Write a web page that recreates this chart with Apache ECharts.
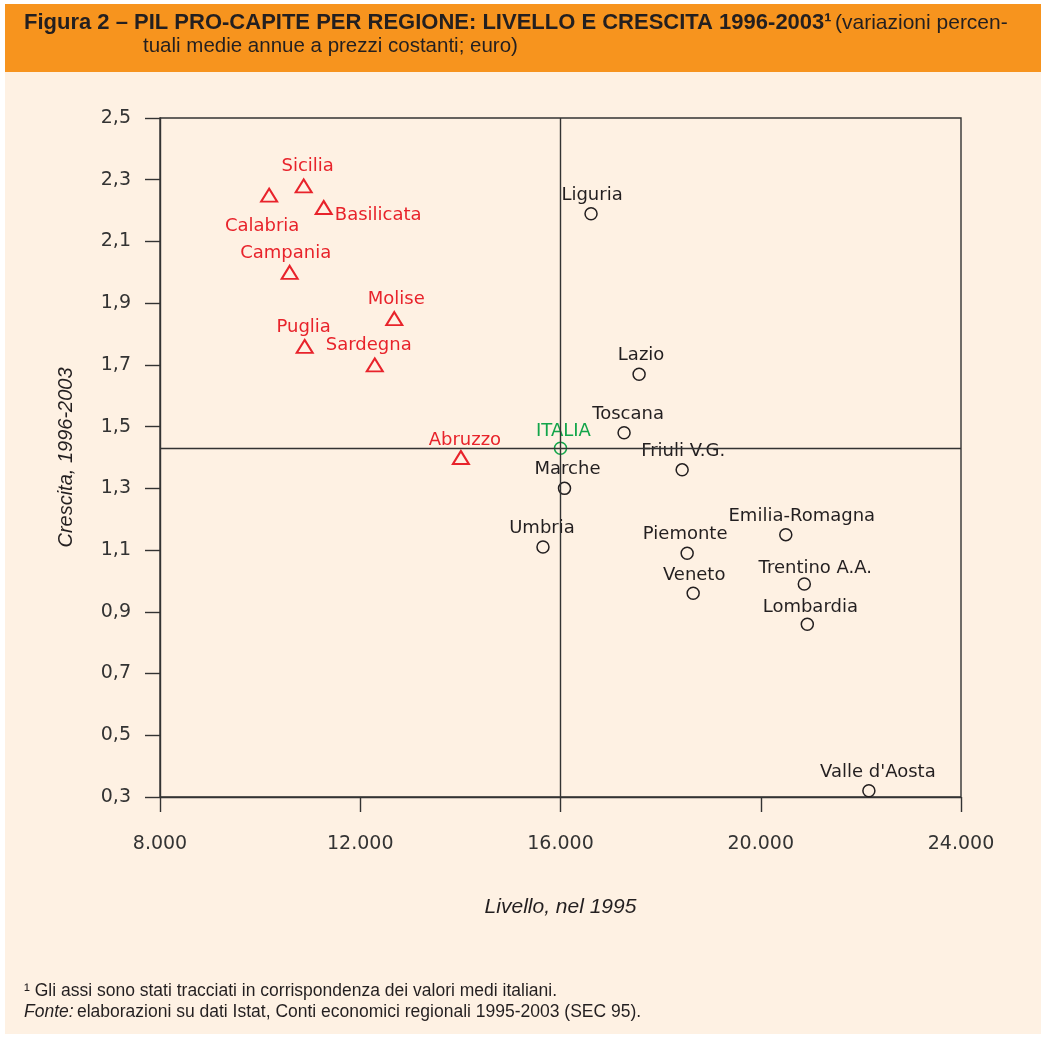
<!DOCTYPE html>
<html>
<head>
<meta charset="utf-8">
<script src="https://cdn.jsdelivr.net/npm/echarts@6/dist/echarts.min.js"></script>
<style>
html,body{margin:0;padding:0;background:#ffffff;}
#chart{width:1041px;height:1039px;}
</style>
</head>
<body>
<div id="chart"></div>
<script>
// ---- DATA ----
const regions = ['Sicilia','Calabria','Basilicata','Campania','Molise','Puglia','Sardegna','Abruzzo',
  'ITALIA','Liguria','Lazio','Toscana','Friuli V.G.','Marche','Umbria','Emilia-Romagna','Piemonte',
  'Trentino A.A.','Veneto','Lombardia',"Valle d'Aosta"];
const livello = [10870,10180,11270,10590,12680,10890,12290,14010,
  16000,16610,17570,17270,18430,16080,15650,20500,18530,20870,18650,20930,22160];
const crescita = [2.28,2.25,2.21,2.00,1.85,1.76,1.70,1.40,
  1.43,2.19,1.67,1.48,1.36,1.30,1.11,1.15,1.09,0.99,0.96,0.86,0.32];
const gruppo = ['sud','sud','sud','sud','sud','sud','sud','sud',
  'italia','nord','nord','nord','nord','nord','nord','nord','nord','nord','nord','nord','nord'];
const xTicks = [8000, 12000, 16000, 20000, 24000];
const yTicks = [0.3, 0.5, 0.7, 0.9, 1.1, 1.3, 1.5, 1.7, 1.9, 2.1, 2.3, 2.5];

// ---- label placement (style only) ----
const labelAdj = {
  'Sicilia': {offset:[4,0]},
  'Calabria': {position:'bottom', distance:15, offset:[-7,0]},
  'Basilicata': {position:'right', distance:2, offset:[0,8]},
  'Campania': {offset:[-4,0]},
  'Molise': {offset:[2,0]},
  'Puglia': {offset:[-1,0]},
  'Sardegna': {offset:[-6,0]},
  'Abruzzo': {offset:[4,2]},
  'ITALIA': {offset:[3,2]},
  'Liguria': {offset:[1,0]},
  'Lazio': {offset:[2,0]},
  'Toscana': {offset:[4,0]},
  'Friuli V.G.': {offset:[1,0]},
  'Marche': {offset:[3,0]},
  'Umbria': {offset:[-1,0]},
  'Emilia-Romagna': {offset:[16,0]},
  'Piemonte': {offset:[-2,0]},
  'Trentino A.A.': {offset:[11,3]},
  'Veneto': {offset:[1,1]},
  'Lombardia': {offset:[3,2]},
  "Valle d'Aosta": {offset:[9,0]}
};

const RED = '#E8232B', GREEN = '#12A54A', DARK = '#231F20';
function build(g){
  const out = [];
  regions.forEach((n,i)=>{
    if(gruppo[i]!==g) return;
    const adj = labelAdj[n] || {};
    out.push({name:n, value:[livello[i], crescita[i]], label:Object.assign({}, adj)});
  });
  return out;
}
const iIt = regions.indexOf('ITALIA');
const labelFont = {fontFamily:'DejaVu Sans', fontSize:18, show:true, position:'top', distance:3,
  formatter: p => p.name};

const chart = echarts.init(document.getElementById('chart'), null, {renderer:'canvas'});
chart.setOption({
  animation:false,
  backgroundColor:'#ffffff',
  graphic:[
    {type:'rect', shape:{x:5,y:72,width:1036,height:962}, style:{fill:'#FEF1E3'}, z:-10, silent:true},
    {type:'rect', shape:{x:5,y:4,width:1036,height:68}, style:{fill:'#F7941E'}, z:-10, silent:true},
    {type:'text', left:24, top:12, style:{
      text:'{b|Figura 2 – PIL PRO-CAPITE PER REGIONE: LIVELLO E CRESCITA 1996-2003¹} {n|(variazioni percen-}',
      rich:{
        b:{fontFamily:'Liberation Sans', fontWeight:'bold', fontSize:22, fill:'#231F20'},
        n:{fontFamily:'Liberation Sans', fontSize:21, fill:'#231F20'}
      }}},
    {type:'text', left:143, top:36, style:{text:'tuali medie annue a prezzi costanti; euro)',
      fontFamily:'Liberation Sans', fontSize:20.5, fill:'#231F20'}},
    {type:'text', left:24, top:982, style:{text:'¹ Gli assi sono stati tracciati in corrispondenza dei valori medi italiani.',
      fontFamily:'Liberation Sans', fontSize:17.5, fill:'#231F20'}},
    {type:'text', left:24, top:1003, style:{
      text:'{i|Fonte:} {n|elaborazioni su dati Istat, Conti economici regionali 1995-2003 (SEC 95).}',
      rich:{
        i:{fontFamily:'Liberation Sans', fontStyle:'italic', fontSize:17.5, fill:'#231F20'},
        n:{fontFamily:'Liberation Sans', fontSize:17.5, fill:'#231F20'}
      }}}
  ],
  grid:{left:160, right:80, top:118, bottom:242, show:true, borderColor:'#333333', borderWidth:1.4,
    backgroundColor:'transparent'},
  xAxis:{
    type:'value', min:xTicks[0], max:xTicks[xTicks.length-1], interval:4000,
    name:'Livello, nel 1995', nameLocation:'middle', nameGap:100,
    nameTextStyle:{fontFamily:'Liberation Sans', fontStyle:'italic', fontSize:21, color:'#231F20'},
    axisLine:{show:true, onZero:false, lineStyle:{color:'#333333', width:1.4}},
    axisTick:{show:true, length:15, lineStyle:{color:'#333333', width:1.4}},
    axisLabel:{margin:38, fontFamily:'DejaVu Sans', fontSize:19, color:'#333333',
      formatter: v => v.toLocaleString('de-DE')},
    splitLine:{show:false}
  },
  yAxis:{
    type:'value', min:yTicks[0], max:yTicks[yTicks.length-1], interval:0.2,
    name:'Crescita, 1996-2003', nameLocation:'middle', nameGap:84, nameRotate:90,
    nameTextStyle:{fontFamily:'Liberation Sans', fontStyle:'italic', fontSize:20, color:'#231F20'},
    axisLine:{show:true, onZero:false, lineStyle:{color:'#333333', width:1.4}},
    axisTick:{show:true, length:15, lineStyle:{color:'#333333', width:1.4}},
    axisLabel:{margin:29, fontFamily:'DejaVu Sans', fontSize:19, color:'#333333',
      formatter: v => v.toFixed(1).replace('.', ',')},
    splitLine:{show:false}
  },
  series:[
    {type:'scatter', name:'nord', data:build('nord'), symbol:'circle', symbolSize:12,
      itemStyle:{color:'rgba(0,0,0,0)', borderColor:DARK, borderWidth:1.5, opacity:1},
      label:Object.assign({color:DARK}, labelFont), emphasis:{disabled:true}, z:3},
    {type:'scatter', name:'sud', data:build('sud'), symbol:'triangle', symbolSize:[16,13],
      itemStyle:{color:'rgba(0,0,0,0)', borderColor:RED, borderWidth:2, opacity:1},
      label:Object.assign({color:RED}, labelFont), emphasis:{disabled:true}, z:3},
    {type:'scatter', name:'italia', data:build('italia'), symbol:'circle', symbolSize:12,
      itemStyle:{color:'rgba(0,0,0,0)', borderColor:GREEN, borderWidth:1.5, opacity:1},
      label:Object.assign({color:GREEN}, labelFont), emphasis:{disabled:true}, z:4,
      markLine:{silent:true, symbol:['none','none'], label:{show:false},
        lineStyle:{color:'#333333', width:1.4, type:'solid'},
        data:[{xAxis:livello[iIt]}, {yAxis:crescita[iIt]}]}}
  ]
});
</script>
</body>
</html>
